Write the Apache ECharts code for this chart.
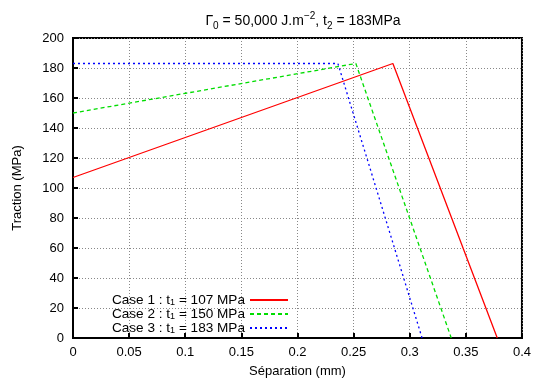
<!DOCTYPE html>
<html>
<head>
<meta charset="utf-8">
<script src="https://cdn.jsdelivr.net/npm/echarts@6/dist/echarts.min.js"></script>
<style>html,body{margin:0;padding:0;background:#fff;}#c{width:534px;height:383px;}</style>
</head>
<body>
<div id="c"></div>
<script>
// Data
const case1X = [0, 0.285, 0.378];
const case1Y = [107, 183, 0];
const case2X = [0, 0.252, 0.337];
const case2Y = [150, 183, 0];
const case3X = [0, 0.236, 0.311];
const case3Y = [183, 183, 0];
const seriesNames = ['Case 1', 'Case 2', 'Case 3'];
const legendT1 = ['107', '150', '183'];
const xTicks = {min: 0, max: 0.4, interval: 0.05};
const yTicks = {min: 0, max: 200, interval: 20};

function pairs(xs, ys) { return xs.map((x, i) => [x, ys[i]]); }

const font = 'Liberation Sans, Arial, Helvetica, sans-serif';
const chart = echarts.init(document.getElementById('c'), null, {renderer: 'canvas'});
const colors = ['#ff0000', '#00dd00', '#0000ff'];
const types = ['solid', [4, 3], [2, 3]];
const allX = [case1X, case2X, case3X];
const allY = [case1Y, case2Y, case3Y];

chart.setOption({
  animation: false,
  backgroundColor: '#ffffff',
  title: {
    text: '{a|Γ}{sub|0}{a| = 50,000 J.m}{sup|−2}{a|, t}{sub|2}{a| = 183MPa}',
    left: 298, top: 6, textAlign: 'center',
    textStyle: {
      fontFamily: font, fontWeight: 'normal',
      rich: {
        a: {fontSize: 14, fontFamily: font, fontWeight: 'normal', color: '#000', lineHeight: 20, verticalAlign: 'middle'},
        sub: {fontSize: 10, fontFamily: font, fontWeight: 'normal', color: '#000', lineHeight: 12, verticalAlign: 'bottom'},
        sup: {fontSize: 10, fontFamily: font, fontWeight: 'normal', color: '#000', lineHeight: 12, verticalAlign: 'top'}
      }
    }
  },
  grid: {left: 73, right: 10, top: 38, bottom: 45, show: true, borderColor: '#000', borderWidth: 2, backgroundColor: 'transparent'},
  legend: {
    orient: 'vertical', align: 'right', right: 240, top: 288,
    itemWidth: 38, itemHeight: 10, itemGap: 0,
    itemStyle: {opacity: 0},
    data: seriesNames,
    formatter: function (name) {
      const i = seriesNames.indexOf(name);
      return '{a|' + name + ' : t}{sub|1}{a| = ' + legendT1[i] + ' MPa}';
    },
    textStyle: {
      fontFamily: font,
      rich: {
        a: {fontSize: 13.6, fontFamily: font, color: '#000', lineHeight: 13.6, verticalAlign: 'middle'},
        sub: {fontSize: 9, fontFamily: font, color: '#000', lineHeight: 8, verticalAlign: 'bottom'}
      }
    }
  },
  xAxis: {
    type: 'value', min: xTicks.min, max: xTicks.max, interval: xTicks.interval,
    name: 'Séparation (mm)', nameLocation: 'middle', nameGap: 27,
    nameTextStyle: {fontFamily: font, fontSize: 13, color: '#000'},
    axisLine: {show: true, onZero: false, lineStyle: {color: '#000', width: 2}},
    axisTick: {show: true, inside: true, length: 5, lineStyle: {color: '#000', width: 2}},
    axisLabel: {fontFamily: font, fontSize: 13, color: '#000', margin: 8},
    splitLine: {show: true, lineStyle: {color: '#888', type: [1, 2], width: 1}}
  },
  yAxis: {
    type: 'value', min: yTicks.min, max: yTicks.max, interval: yTicks.interval,
    name: 'Traction (MPa)', nameLocation: 'middle', nameGap: 49,
    nameTextStyle: {fontFamily: font, fontSize: 13, color: '#000'},
    axisLine: {show: true, onZero: false, lineStyle: {color: '#000', width: 2}},
    axisTick: {show: true, inside: true, length: 5, lineStyle: {color: '#000', width: 2}},
    axisLabel: {fontFamily: font, fontSize: 13, color: '#000', margin: 9},
    splitLine: {show: true, lineStyle: {color: '#888', type: [1, 2], width: 1}}
  },
  series: seriesNames.map((n, i) => ({
    name: n, type: 'line', symbol: 'none', data: pairs(allX[i], allY[i]),
    color: colors[i],
    lineStyle: {color: colors[i], width: 1.3, type: types[i]}
  }))
});
</script>
</body>
</html>
